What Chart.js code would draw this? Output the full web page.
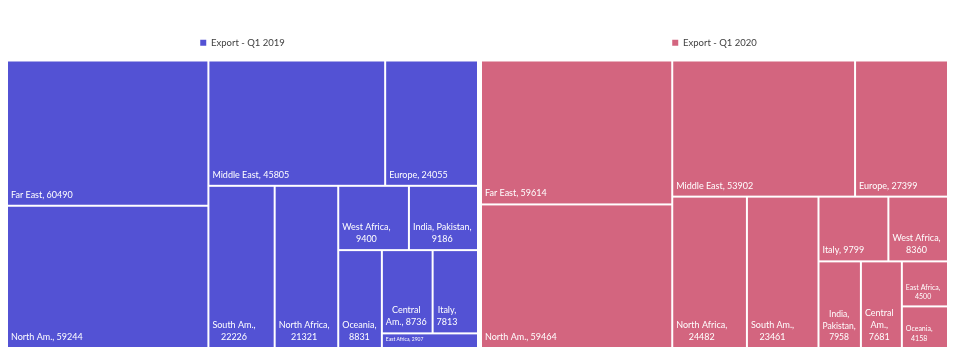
<!DOCTYPE html>
<html>
<head>
<meta charset="utf-8">
<script src="https://cdn.jsdelivr.net/npm/chart.js@4.4.1/dist/chart.umd.min.js"></script>
<style>
  html, body { margin: 0; padding: 0; background: #ffffff; }
  #wrap { position: relative; width: 956px; height: 356px; overflow: hidden; }
  .box { position: absolute; top: 0; height: 356px; }
</style>
</head>
<body>
<div id="wrap">
  <div class="box" style="left:0;width:479px"><canvas id="c2019" width="479" height="356"></canvas></div>
  <div class="box" style="left:479px;width:477px"><canvas id="c2020" width="477" height="356"></canvas></div>
</div>
<script>
// ---- Data ----
const regions2019 = ['Far East', 'North Am.', 'Middle East', 'Europe', 'South Am.', 'North Africa',
  'West Africa', 'India, Pakistan', 'Oceania', 'Central Am.', 'Italy', 'East Africa'];
const exports2019 = [60490, 59244, 45805, 24055, 22226, 21321, 9400, 9186, 8831, 8736, 7813, 2907];
// how many cells go into each successive strip of the treemap
const strips2019 = [2, 2, 1, 1, 2, 1, 2, 1];

const regions2020 = ['Far East', 'North Am.', 'Middle East', 'Europe', 'North Africa', 'South Am.',
  'Italy', 'West Africa', 'India, Pakistan', 'Central Am.', 'East Africa', 'Oceania'];
const exports2020 = [59614, 59464, 53902, 27399, 24482, 23461, 9799, 8360, 7958, 7681, 4500, 4158];
const strips2020 = [2, 2, 1, 1, 2, 1, 1, 1, 1];

const series2019 = 'Export - Q1 2019';
const series2020 = 'Export - Q1 2020';

// ---- Styles ----
const COLOR_2019 = '#5352D4';
const COLOR_2020 = '#D3657F';
const FONT = 'Lato, "Open Sans", sans-serif';

// Strip treemap layout in a box of (aspect x 1), returns fractions of the box
function stripLayout(values, strips, aspect) {
  const total = values.reduce((a, b) => a + b, 0);
  const k = aspect / total; // area per unit value
  let x0 = 0, y0 = 0, x1 = aspect, y1 = 1;
  const rects = [];
  let i = 0;
  strips.forEach(n => {
    const items = values.slice(i, i + n);
    const sum = items.reduce((a, b) => a + b, 0);
    const w = x1 - x0, h = y1 - y0;
    const area = sum * k;
    if (w >= h) {
      const sw = area / h;
      let yy = y0;
      items.forEach((v, j) => {
        const ih = v * k / sw;
        rects.push({ idx: i + j, x0: x0, x1: x0 + sw, y0: yy, y1: yy + ih });
        yy += ih;
      });
      x0 += sw;
    } else {
      const sh = area / w;
      let xx = x0;
      items.forEach((v, j) => {
        const iw = v * k / sh;
        rects.push({ idx: i + j, x0: xx, x1: xx + iw, y0: y0, y1: y0 + sh });
        xx += iw;
      });
      y0 += sh;
    }
    i += n;
  });
  return rects.map(r => ({ idx: r.idx, x0: r.x0 / aspect, x1: r.x1 / aspect, y0: r.y0, y1: r.y1 }));
}

function wrapText(ctx, text, maxW) {
  const words = text.split(' ');
  const lines = [];
  let cur = '';
  words.forEach(w => {
    const t = cur ? cur + ' ' + w : w;
    if (!cur || ctx.measureText(t).width <= maxW) cur = t;
    else { lines.push(cur); cur = w; }
  });
  if (cur) lines.push(cur);
  return lines;
}

const treemapPlugin = {
  id: 'stripTreemap',
  beforeInit(chart) {
    // extra space between the legend and the treemap
    const legend = chart.legend;
    if (legend) {
      const fit = legend.fit;
      legend.fit = function () { fit.call(this); this.height += 3; };
    }
  },
  beforeDatasetsDraw(chart) {
    const { ctx, chartArea, scales } = chart;
    const cfg = chart.options.plugins.stripTreemap;
    const values = chart.data.datasets[0].data;
    const labels = chart.data.labels;
    const aspect = (chartArea.right - chartArea.left) / (chartArea.bottom - chartArea.top);
    const rects = stripLayout(values, cfg.strips, aspect);
    const xs = scales.x, ys = scales.y;
    const gap = 1;
    ctx.save();
    rects.forEach(r => {
      const px0 = xs.getPixelForValue(r.x0), px1 = xs.getPixelForValue(r.x1);
      const py0 = ys.getPixelForValue(r.y0), py1 = ys.getPixelForValue(r.y1);
      const L = Math.min(px0, px1) + gap, R = Math.max(px0, px1) - gap;
      const T = Math.min(py0, py1) + gap, B = Math.max(py0, py1) - gap;
      ctx.fillStyle = chart.data.datasets[0].backgroundColor;
      ctx.fillRect(L, T, R - L, B - T);

      // label
      const text = labels[r.idx] + ', ' + values[r.idx];
      const padX = 3, padTop = 5, padBot = 3;
      const maxW = (R - L) - 2 * padX;
      // short cells use the small label font
      let fs = (B - T) < 50 ? 7 : 9, lines, lh;
      while (true) {
        ctx.font = fs + 'px ' + FONT;
        lines = wrapText(ctx, text, maxW);
        lh = fs * 1.33;
        const widest = Math.max(...lines.map(l => ctx.measureText(l).width));
        if ((widest <= maxW && lines.length * lh + padTop + padBot <= (B - T)) || fs <= 5) break;
        fs -= 0.5;
      }
      const blockW = Math.max(...lines.map(l => ctx.measureText(l).width));
      const cx = L + padX + blockW / 2;
      ctx.fillStyle = '#ffffff';
      ctx.textAlign = 'center';
      ctx.textBaseline = 'middle';
      lines.forEach((ln, j) => {
        const cy = B - padBot - lh / 2 - (lines.length - 1 - j) * lh - 1;
        ctx.fillText(ln, cx, cy);
      });
    });
    ctx.restore();
    return false; // the treemap replaces the default dataset drawing
  }
};

function makeChart(id, regions, values, strips, label, color, pad) {
  return new Chart(document.getElementById(id), {
    type: 'bar',
    data: {
      labels: regions,
      datasets: [{ label: label, data: values, backgroundColor: color, borderColor: color, borderWidth: 0 }]
    },
    options: {
      responsive: false,
      animation: false,
      devicePixelRatio: 1,
      layout: { padding: pad },
      scales: {
        x: { type: 'linear', min: 0, max: 1, display: false, offset: false, grace: 0 },
        y: { type: 'linear', min: 0, max: 1, reverse: true, display: false, offset: false, grace: 0 }
      },
      plugins: {
        stripTreemap: { strips: strips },
        tooltip: { enabled: false },
        legend: {
          display: true,
          position: 'top',
          labels: {
            boxWidth: 6, boxHeight: 6, padding: 7,
            color: '#404040',
            font: { family: FONT, size: 9.5 }
          }
        }
      }
    },
    plugins: [treemapPlugin]
  });
}

makeChart('c2019', regions2019, exports2019, strips2019, series2019, COLOR_2019,
  { left: 7, right: 1, top: 31, bottom: 8 });
makeChart('c2020', regions2020, exports2020, strips2020, series2020, COLOR_2020,
  { left: 2, right: 8, top: 31, bottom: 8 });
</script>
</body>
</html>
